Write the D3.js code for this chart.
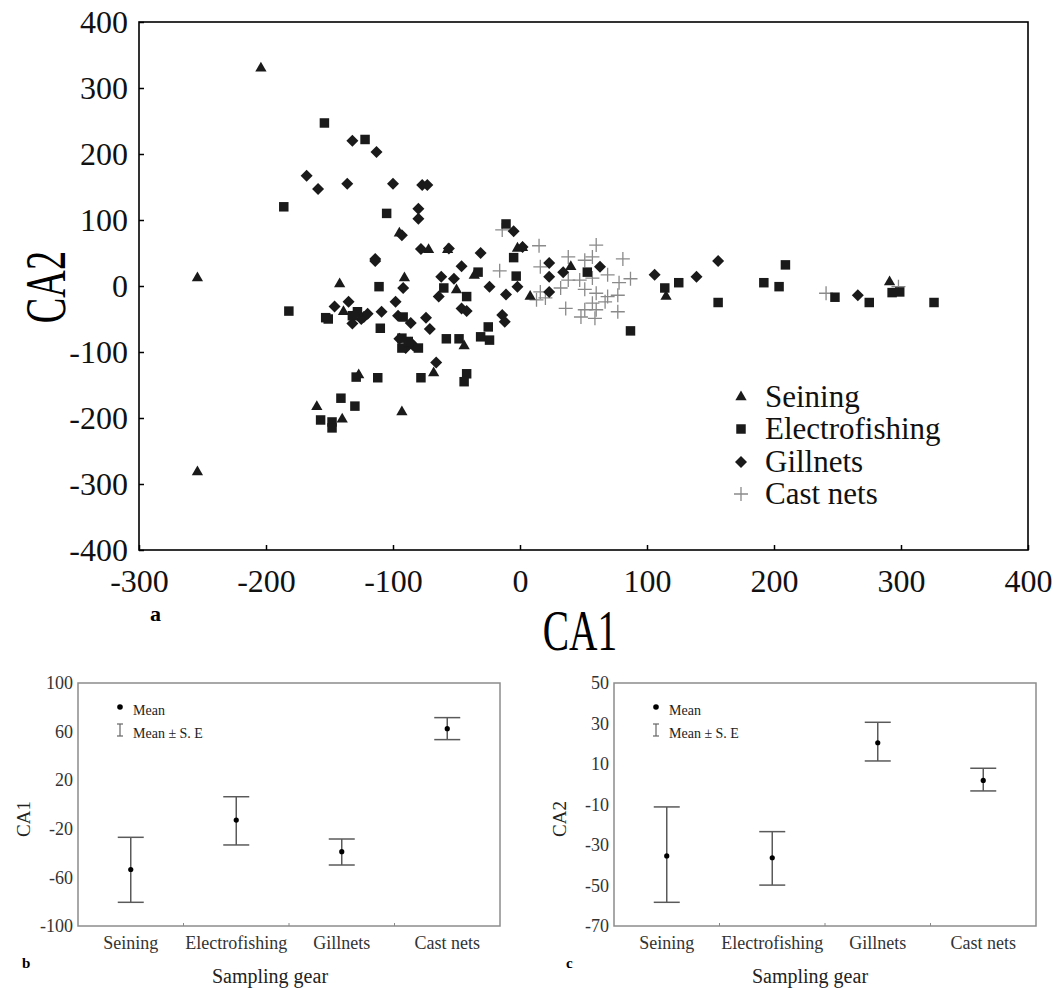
<!DOCTYPE html>
<html>
<head>
<meta charset="utf-8">
<script src="https://cdn.jsdelivr.net/npm/d3@7/dist/d3.min.js"></script>
<style>
body { margin: 0; background: #fff; }
text { font-family: "Liberation Serif", "Times New Roman", serif; }
</style>
</head>
<body>
<div id="container"></div>
<script>
// CA scores (CA1, CA2)
const seining = [[-204,330],[-254,12],[-254,-282],[-160,-183],[-140,-202],[-93,-191],[-142,3],[-91,12],
    [-127,-135],[-68,-132],[-44,-91],[-50,-6],[-36,16],[-72,55],[-57,55],[2,58],[-139,-39],[-130,-42],
    [8,-16],[-2,57],[40,29],[115,-16],[291,6],[-95,80]];
const electrofishing = [[-154,247],[-186,120],[-182,-38],[-153,-48],[-157,-203],[-122,222],[-105,110],
    [-11,94],[-5,43],[-111,-1],[-151,-50],[-110,-64],[-33,21],[-60,-3],[-42,-16],[-3,15],[-25,-62],
    [-31,-77],[-24,-82],[-58,-80],[-48,-80],[-93,-79],[-80,-94],[-93,-94],[-129,-138],[-112,-139],
    [-78,-139],[-42,-133],[-44,-145],[-141,-170],[-130,-182],[-148,-206],[-148,-215],[-132,-45],
    [-128,-39],[-92,-47],[53,21],[114,-3],[87,-68],[125,5],[156,-25],[192,5],[204,-1],[209,32],
    [248,-17],[275,-25],[293,-10],[299,-9],[326,-25],[-88,-84]];
const gillnets = [[-168,167],[-159,147],[-132,220],[-113,203],[-136,155],[-100,155],[-77,153],[-73,153],
    [-80,117],[-80,102],[-93,77],[-78,56],[-56,57],[-31,50],[-114,41],[-5,83],[2,59],[-114,38],[-46,30],
    [-62,14],[-52,11],[-64,-16],[-92,-3],[-98,-24],[-135,-24],[-146,-31],[-109,-39],[-96,-45],[-132,-57],
    [-123,-47],[-86,-56],[-74,-48],[-71,-65],[-46,-34],[-42,-38],[-24,-1],[-11,-13],[-2,-1],[-14,-44],
    [-12,-54],[-66,-116],[-90,-94],[-95,-80],[-84,-90],[-86,-86],[23,35],[23,14],[34,21],[23,-9],[63,29],
    [106,17],[139,14],[156,38],[266,-14],[-125,-50],[-120,-42]];
const castNets = [[-14,85],[15,61],[60,62],[-16,23],[16,29],[38,44],[51,39],[57,44],[81,41],[38,9],
    [32,-3],[47,9],[57,12],[69,17],[78,5],[87,11],[16,-9],[20,-18],[13,-21],[51,-5],[60,-11],[69,-16],
    [77,-14],[57,-26],[67,-24],[36,-34],[51,-36],[60,-36],[77,-39],[59,-49],[48,-47],[241,-11],[298,-1]];

const xTicks = [-300, -200, -100, 0, 100, 200, 300, 400];
const yTicks = [-400, -300, -200, -100, 0, 100, 200, 300, 400];
const legendNames = ['Seining', 'Electrofishing', 'Gillnets', 'Cast nets'];

// panels b and c: means and +/- S.E.
const gears = ['Seining', 'Electrofishing', 'Gillnets', 'Cast nets'];
const ca1Mean = [-53.5, -12.8, -38.8, 62.4];
const ca1Upper = [-27, 6.4, -28.4, 71.5];
const ca1Lower = [-80.5, -33.3, -49.8, 53.4];
const ca1Ticks = [100, 60, 20, -20, -60, -100];
const ca2Mean = [-35.4, -36.3, 20.5, 1.9];
const ca2Upper = [-11.2, -23.4, 30.6, 7.9];
const ca2Lower = [-58.3, -49.8, 11.5, -3.3];
const ca2Ticks = [50, 30, 10, -10, -30, -50, -70];

const svg = d3.select('#container')
    .append('svg')
        .attr('width', 1054)
        .attr('height', 988);

// ---------- panel a ----------
const xScale = d3.scaleLinear().domain([-300, 400]).range([139, 1028]);
const yScale = d3.scaleLinear().domain([-400, 400]).range([550, 22]);

const xAxis = d3.axisBottom(xScale).tickValues(xTicks).tickSizeInner(-5).tickSizeOuter(0)
    .tickPadding(19).tickFormat(d => String(d));
const yAxis = d3.axisLeft(yScale).tickValues(yTicks).tickSizeInner(-5).tickSizeOuter(0)
    .tickPadding(11).tickFormat(d => String(d));

const gx = svg.append('g')
    .attr('transform', 'translate(0,' + 550 + ')')
    .call(xAxis);
const gy = svg.append('g')
    .attr('transform', 'translate(' + 139 + ',0)')
    .call(yAxis);
[gx, gy].forEach(g => {
    g.select('.domain').remove();
    g.selectAll('line').attr('stroke', '#000').attr('stroke-width', 1.5);
    g.selectAll('text').attr('fill', '#111').style('font-size', '32px')
        .style('font-family', '"Liberation Serif", serif');
});

svg.append('rect')
    .attr('x', 139).attr('y', 22)
    .attr('width', 1028 - 139).attr('height', 550 - 22)
    .attr('fill', 'none').attr('stroke', '#000').attr('stroke-width', 1.6);

const triPath = d3.symbol(d3.symbolTriangle).size(55)();
const sqPath = d3.symbol(d3.symbolSquare).size(90)();
const diaPath = d3.symbol(d3.symbolSquare).size(72)();
const crossPath = 'M-7,0H7M0,-7V7';

const pts = svg.append('g');

pts.selectAll('.cross').data(castNets).enter().append('path')
    .attr('d', crossPath)
    .attr('transform', d => 'translate(' + xScale(d[0]) + ',' + yScale(d[1]) + ')')
    .attr('fill', 'none').attr('stroke', '#8a8a8a').attr('stroke-width', 1.3);

pts.selectAll('.dia').data(gillnets).enter().append('path')
    .attr('d', diaPath)
    .attr('transform', d => 'translate(' + xScale(d[0]) + ',' + yScale(d[1]) + ') rotate(45)')
    .attr('fill', '#1a1a1a');

pts.selectAll('.sq').data(electrofishing).enter().append('path')
    .attr('d', sqPath)
    .attr('transform', d => 'translate(' + xScale(d[0]) + ',' + yScale(d[1]) + ')')
    .attr('fill', '#1a1a1a');

pts.selectAll('.tri').data(seining).enter().append('path')
    .attr('d', triPath)
    .attr('transform', d => 'translate(' + xScale(d[0]) + ',' + yScale(d[1]) + ')')
    .attr('fill', '#1a1a1a');

// legend
const legendY = [397, 429, 462, 494];
const legendSym = [
    g => g.append('path').attr('d', triPath).attr('fill', '#1a1a1a'),
    g => g.append('path').attr('d', sqPath).attr('fill', '#1a1a1a'),
    g => g.append('path').attr('d', diaPath).attr('transform', 'rotate(45)').attr('fill', '#1a1a1a'),
    g => g.append('path').attr('d', crossPath).attr('fill', 'none').attr('stroke', '#8a8a8a').attr('stroke-width', 1.3)
];
legendNames.forEach((name, i) => {
    const g = svg.append('g').attr('transform', 'translate(' + 741 + ',' + legendY[i] + ')');
    legendSym[i](g);
    g.append('text')
        .attr('x', 24).attr('y', 10)
        .style('font-size', '31px')
        .attr('fill', '#111')
        .text(name);
});

svg.append('text')
    .attr('transform', 'translate(' + 45 + ',' + 287 + ') rotate(-90) scale(0.66,1)')
    .attr('text-anchor', 'middle')
    .attr('dy', '0.35em')
    .style('font-size', '58px')
    .text('CA2');

svg.append('text')
    .attr('transform', 'translate(' + 580 + ',' + 650 + ') scale(0.68,1)')
    .attr('text-anchor', 'middle')
    .style('font-size', '58px')
    .text('CA1');

svg.append('text')
    .attr('x', 150).attr('y', 621)
    .style('font-size', '22px').style('font-weight', 'bold')
    .text('a');

// ---------- panels b and c ----------
function drawPanel(left, right, domain, ticks, label, mean, upper, lower, letter, letterX, titleX) {
    const top = 683, bottom = 926;
    const xb = d3.scaleBand().domain(gears).range([left, right]);
    const yl = d3.scaleLinear().domain(domain).range([bottom, top]);
    const g = svg.append('g');

    const ax = g.append('g')
        .attr('transform', 'translate(0,' + bottom + ')')
        .call(d3.axisBottom(xb).tickSize(0).tickPadding(10));
    const ay = g.append('g')
        .attr('transform', 'translate(' + left + ',0)')
        .call(d3.axisLeft(yl).tickValues(ticks).tickSize(0).tickPadding(5).tickFormat(d => String(d)));
    [ax, ay].forEach(a => {
        a.select('.domain').remove();
        a.selectAll('text').attr('fill', '#333').style('font-size', '18px')
            .style('font-family', '"Liberation Serif", serif');
    });

    // small ticks at the band boundaries
    g.selectAll('.bt').data(gears.slice(1)).enter().append('line')
        .attr('x1', d => xb(d)).attr('x2', d => xb(d))
        .attr('y1', bottom).attr('y2', bottom - 3)
        .attr('stroke', '#888').attr('stroke-width', 1);

    g.append('rect')
        .attr('x', left).attr('y', top)
        .attr('width', right - left).attr('height', bottom - top)
        .attr('fill', 'none').attr('stroke', '#8c8c8c').attr('stroke-width', 1.5);

    const cx = d => xb(d) + xb.bandwidth() / 2;
    const bars = g.selectAll('.eb').data(gears).enter().append('g');
    bars.append('line')
        .attr('x1', cx).attr('x2', cx)
        .attr('y1', (d, i) => yl(upper[i])).attr('y2', (d, i) => yl(lower[i]));
    bars.append('line')
        .attr('x1', d => cx(d) - 13).attr('x2', d => cx(d) + 13)
        .attr('y1', (d, i) => yl(upper[i])).attr('y2', (d, i) => yl(upper[i]));
    bars.append('line')
        .attr('x1', d => cx(d) - 13).attr('x2', d => cx(d) + 13)
        .attr('y1', (d, i) => yl(lower[i])).attr('y2', (d, i) => yl(lower[i]));
    bars.selectAll('line').attr('stroke', '#5a5a5a').attr('stroke-width', 1.5);
    bars.append('circle')
        .attr('cx', cx).attr('cy', (d, i) => yl(mean[i]))
        .attr('r', 2.6).attr('fill', '#000');

    // legend
    const lx = left + 42;
    g.append('circle').attr('cx', lx).attr('cy', top + 24).attr('r', 2.8).attr('fill', '#000');
    g.append('text').attr('x', lx + 13).attr('y', top + 32).style('font-size', '14px').attr('fill', '#222').text('Mean');
    g.append('line').attr('x1', lx).attr('x2', lx).attr('y1', top + 41).attr('y2', top + 53)
        .attr('stroke', '#666').attr('stroke-width', 1.2);
    g.append('line').attr('x1', lx - 3).attr('x2', lx + 3).attr('y1', top + 41).attr('y2', top + 41)
        .attr('stroke', '#666').attr('stroke-width', 1.2);
    g.append('line').attr('x1', lx - 3).attr('x2', lx + 3).attr('y1', top + 53).attr('y2', top + 53)
        .attr('stroke', '#666').attr('stroke-width', 1.2);
    g.append('text').attr('x', lx + 13).attr('y', top + 55).style('font-size', '14px').attr('fill', '#222').text('Mean \u00b1 S. E');

    g.append('text')
        .attr('transform', 'translate(' + (left - 55) + ',' + 819 + ') rotate(-90)')
        .attr('text-anchor', 'middle')
        .attr('dy', '0.35em')
        .style('font-size', '19px').attr('fill', '#222')
        .text(label);
    g.append('text')
        .attr('x', titleX).attr('y', 983)
        .attr('text-anchor', 'middle')
        .style('font-size', '20px').attr('fill', '#222')
        .text('Sampling gear');
    g.append('text')
        .attr('x', letterX).attr('y', 968)
        .style('font-size', '15px').style('font-weight', 'bold')
        .text(letter);
}

drawPanel(78, 500, [-100, 100], ca1Ticks, 'CA1', ca1Mean, ca1Upper, ca1Lower, 'b', 22, 270);
drawPanel(614, 1036, [-70, 50], ca2Ticks, 'CA2', ca2Mean, ca2Upper, ca2Lower, 'c', 566, 810);
</script>
</body>
</html>
